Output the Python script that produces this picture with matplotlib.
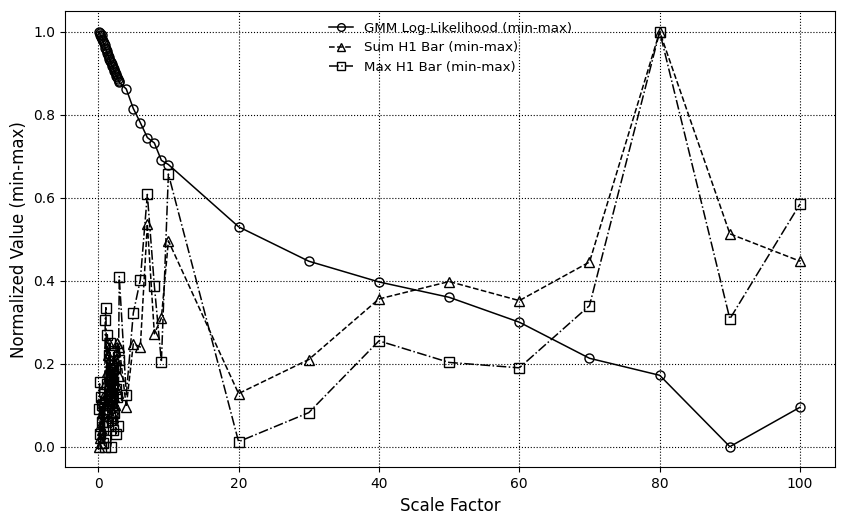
import matplotlib
matplotlib.use("Agg")
import matplotlib.pyplot as plt

# scale factors: dense 0.1..3.0, then coarse steps
scaleDense = [0.1, 0.2, 0.3, 0.4, 0.5, 0.6, 0.7, 0.8, 0.9, 1.0,
              1.1, 1.2, 1.3, 1.4, 1.5, 1.6, 1.7, 1.8, 1.9, 2.0,
              2.1, 2.2, 2.3, 2.4, 2.5, 2.6, 2.7, 2.8, 2.9, 3.0]
scaleCoarse = [4, 5, 6, 7, 8, 9, 10, 20, 30, 40, 50, 60, 70, 80, 90, 100]
scaleFactors = scaleDense + scaleCoarse

gmmValues = [1.000, 0.996, 0.992, 0.988, 0.991, 0.982, 0.978, 0.972, 0.968, 0.962,
             0.958, 0.953, 0.948, 0.944, 0.940, 0.935, 0.930, 0.926, 0.922, 0.918,
             0.915, 0.910, 0.906, 0.902, 0.898, 0.894, 0.890, 0.886, 0.882, 0.878,
             0.862, 0.815, 0.781, 0.745, 0.732, 0.690, 0.680,
             0.530, 0.447, 0.397, 0.360, 0.300, 0.213, 0.172, 0.000, 0.095]

sumH1Values = [0.00, 0.02, 0.05, 0.01, 0.08, 0.04, 0.12, 0.06, 0.10, 0.15,
               0.09, 0.18, 0.13, 0.22, 0.25, 0.17, 0.11, 0.20, 0.14, 0.07,
               0.19, 0.12, 0.16, 0.10, 0.21, 0.15, 0.25, 0.13, 0.17, 0.24,
               0.096, 0.248, 0.240, 0.537, 0.272, 0.310, 0.496,
               0.128, 0.210, 0.356, 0.398, 0.352, 0.445, 1.000, 0.513, 0.447]

maxH1Values = [0.09, 0.155, 0.03, 0.12, 0.06, 0.10, 0.01, 0.08, 0.00, 0.305,
               0.335, 0.15, 0.27, 0.05, 0.22, 0.10, 0.25, 0.00, 0.18, 0.13,
               0.04, 0.23, 0.08, 0.19, 0.03, 0.14, 0.12, 0.05, 0.21, 0.41,
               0.125, 0.322, 0.402, 0.608, 0.388, 0.204, 0.657,
               0.012, 0.082, 0.255, 0.203, 0.190, 0.340, 1.000, 0.308, 0.585]

fig, ax = plt.subplots(figsize=(8.47, 5.24), dpi=100)

ax.plot(scaleFactors, gmmValues, color='black', linestyle='-', linewidth=1.1,
        marker='o', markersize=6.5, markerfacecolor='none', label='GMM Log-Likelihood (min-max)')
ax.plot(scaleFactors, sumH1Values, color='black', linestyle='--', linewidth=1.1,
        marker='^', markersize=6.5, markerfacecolor='none', label='Sum H1 Bar (min-max)')
ax.plot(scaleFactors, maxH1Values, color='black', linestyle='-.', linewidth=1.1,
        marker='s', markersize=6.5, markerfacecolor='none', label='Max H1 Bar (min-max)')

ax.set_xlim(-4.7, 105)
ax.set_ylim(-0.05, 1.05)
ax.set_xlabel('Scale Factor', fontsize=12)
ax.set_ylabel('Normalized Value (min-max)', fontsize=12)
ax.grid(True, linestyle=':', color='black', linewidth=0.8)
ax.legend(loc='upper center', frameon=False, fontsize=9.6, markerscale=0.85,
          handlelength=1.8, borderaxespad=0.4)

plt.subplots_adjust(left=0.077, right=0.986, top=0.979, bottom=0.108)
plt.savefig('out.png', dpi=100)
